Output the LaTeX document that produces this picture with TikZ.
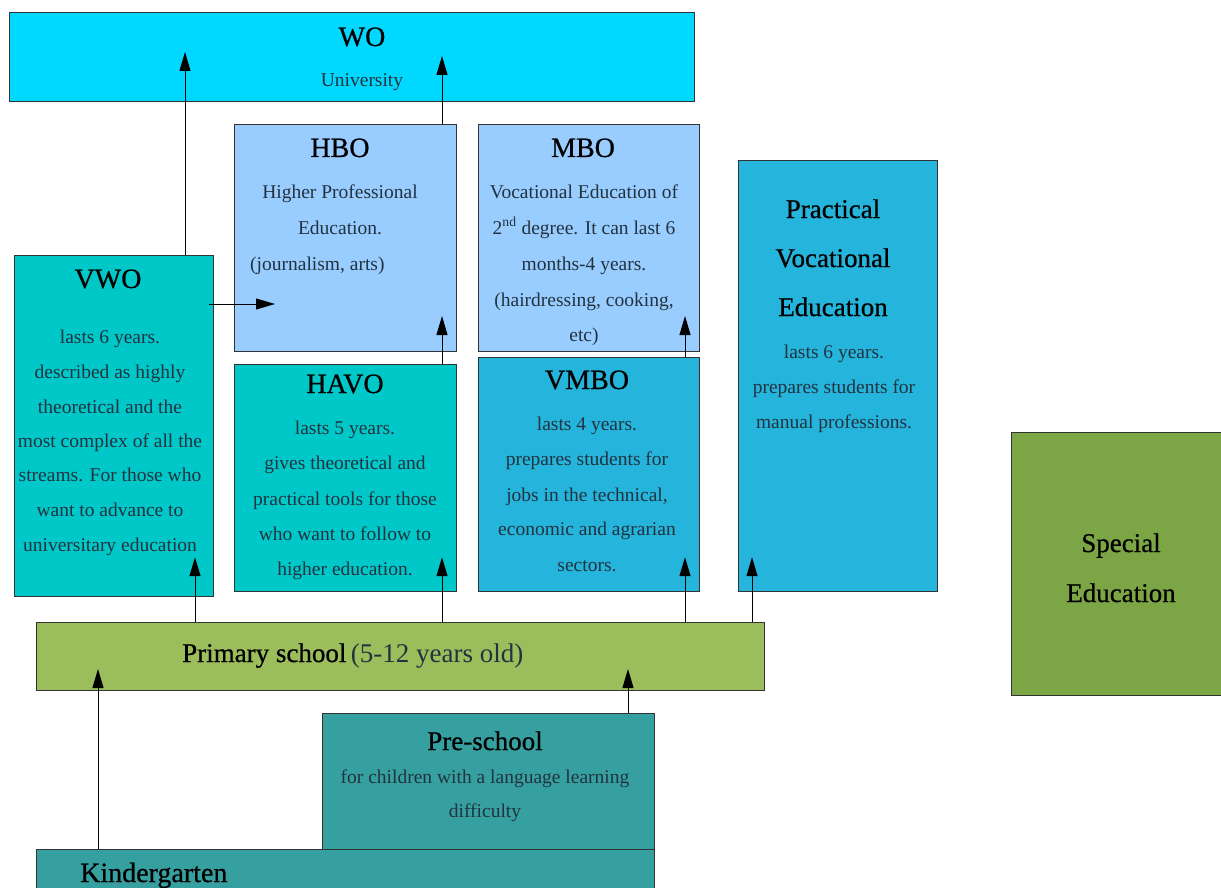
\documentclass[tikz,border=0pt]{standalone}
\usepackage{fontspec}
\setmainfont{Liberation Serif}
\newfontface\semib{Liberation Serif}[FakeBold=0.7]
\usetikzlibrary{arrows.meta,calc}
\definecolor{woC}{HTML}{00D8FF}
\definecolor{hboC}{HTML}{99CCFF}
\definecolor{vwoC}{HTML}{00C8C8}
\definecolor{vmboC}{HTML}{25B4DB}
\definecolor{primC}{HTML}{9BBD5C}
\definecolor{specC}{HTML}{7CA646}
\definecolor{preC}{HTML}{36A0A0}
\definecolor{txtC}{HTML}{22333F}
\definecolor{lineC}{HTML}{333333}
\begin{document}
\begin{tikzpicture}[x=1pt,y=-1pt,
  box/.style={draw=lineC,line width=1.2pt,anchor=north west,inner sep=0pt,rectangle},
  ttl/.style={anchor=base,inner sep=0pt,font=\semib\fontsize{28}{30}\selectfont,text=black},
  bigttl/.style={anchor=base,inner sep=0pt,font=\semib\fontsize{27}{29}\selectfont,text=black},
  body/.style={anchor=base,inner sep=0pt,font=\fontsize{19.5}{21}\selectfont,text=txtC},
  arr/.style={-{Triangle[length=19pt,width=11pt]},line width=1pt,draw=black}]
\useasboundingbox (0,0) rectangle (1221,888);
\fill[white] (0,0) rectangle (1221,888);

% boxes
\node[box,fill=woC,minimum width=685,minimum height=89] (wo) at (9,12) {};
\node[box,fill=hboC,minimum width=222,minimum height=227] (hbo) at (234,124) {};
\node[box,fill=hboC,minimum width=221,minimum height=227] (mbo) at (478,124) {};
\node[box,fill=vmboC,minimum width=199,minimum height=431] (pve) at (738,160) {};
\node[box,fill=vwoC,minimum width=199,minimum height=341] (vwo) at (14,255) {};
\node[box,fill=vwoC,minimum width=222,minimum height=227] (havo) at (234,364) {};
\node[box,fill=vmboC,minimum width=221,minimum height=234] (vmbo) at (478,357) {};
\node[box,fill=primC,minimum width=728,minimum height=68] (prim) at (36,622) {};
\node[box,fill=specC,minimum width=220,minimum height=263] (spec) at (1011,432) {};
\node[box,fill=preC,minimum width=332,minimum height=137] (pre) at (322,713) {};
\node[box,fill=preC,minimum width=618,minimum height=60] (kg) at (36,849) {};

% texts
\node[ttl] (woT) at (362,46) {WO};
\node[body] (woB) at (362,87) {University};

\node[ttl] (hboT) at (340,157) {HBO};
\node[body] (hboB1) at (340,198) {Higher Professional};
\node[body] (hboB2) at (340,234) {Education.};
\node[body,anchor=base west] (hboB3) at (250,270) {(journalism, arts)};

\node[ttl] (mboT) at (583,157) {MBO};
\node[body] (mboB1) at (584,198) {Vocational Education of};
\node[body] (mboB2) at (584,234) {2\textsuperscript{nd} degree. It can last 6};
\node[body] (mboB3) at (584,270) {months-4 years.};
\node[body] (mboB4) at (584,306) {(hairdressing, cooking,};
\node[body] (mboB5) at (584,341) {etc)};

\node[bigttl] (pveT1) at (833,218) {Practical};
\node[bigttl] (pveT2) at (833,267) {Vocational};
\node[bigttl] (pveT3) at (833,316) {Education};
\node[body] (pveB1) at (834,358) {lasts 6 years.};
\node[body] (pveB2) at (834,393) {prepares students for};
\node[body] (pveB3) at (834,428) {manual professions.};

\node[ttl] (vwoT) at (108,288) {VWO};
\node[body] (vwoB1) at (110,343) {lasts 6 years.};
\node[body] (vwoB2) at (110,378) {described as highly};
\node[body] (vwoB3) at (110,413) {theoretical and the};
\node[body] (vwoB4) at (110,447) {most complex of all the};
\node[body] (vwoB5) at (110,481) {streams. For those who};
\node[body] (vwoB6) at (110,516) {want to advance to};
\node[body] (vwoB7) at (110,551) {universitary education};

\node[ttl] (havoT) at (345,393) {HAVO};
\node[body] (havoB1) at (345,434) {lasts 5 years.};
\node[body] (havoB2) at (345,469) {gives theoretical and};
\node[body] (havoB3) at (345,505) {practical tools for those};
\node[body] (havoB4) at (345,540) {who want to follow to};
\node[body] (havoB5) at (345,575) {higher education.};

\node[ttl] (vmboT) at (587,389) {VMBO};
\node[body] (vmboB1) at (587,430) {lasts 4 years.};
\node[body] (vmboB2) at (587,465) {prepares students for};
\node[body] (vmboB3) at (587,501) {jobs in the technical,};
\node[body] (vmboB4) at (587,535) {economic and agrarian};
\node[body] (vmboB5) at (587,571) {sectors.};

\node[anchor=base west,inner sep=0pt,font=\fontsize{27}{29}\selectfont] (primT) at (182,662)
  {{\semib\textcolor{black}{Primary school}}\,\textcolor{txtC}{(5-12 years old)}};

\node[bigttl] (specT1) at (1121,552) {Special};
\node[bigttl] (specT2) at (1121,602) {Education};

\node[ttl,font=\semib\fontsize{27}{29}\selectfont] (preT) at (485,750) {Pre-school};
\node[body] (preB1) at (485,783) {for children with a language learning};
\node[body] (preB2) at (485,817) {difficulty};

\node[anchor=base west,inner sep=0pt,font=\semib\fontsize{28}{30}\selectfont,text=black] (kgT) at (80,882) {Kindergarten};

% arrows
\draw[arr] ($(vwo.north west)+(171,0)$) -- ($(wo.north west)+(176,40)$);
\draw[arr] ($(hbo.north west)+(208,0)$) -- ($(wo.north west)+(433,44)$);
\draw[arr] ($(vwo.north east)+(-5,49)$) -- ($(hbo.north west)+(41,180)$);
\draw[arr] ($(havo.north west)+(208,0)$) -- ($(hbo.north west)+(208,192)$);
\draw[arr] ($(vmbo.north west)+(207,0)$) -- ($(mbo.north west)+(207,192)$);
\draw[arr] ($(prim.north west)+(159,0)$) -- ($(vwo.south west)+(181,-40)$);
\draw[arr] ($(prim.north west)+(406,0)$) -- ($(havo.south west)+(208,-35)$);
\draw[arr] ($(prim.north west)+(649,0)$) -- ($(vmbo.south west)+(207,-35)$);
\draw[arr] ($(prim.north west)+(716,0)$) -- ($(pve.south west)+(14,-35)$);
\draw[arr] ($(kg.north west)+(62,0)$) -- ($(prim.north west)+(62,47)$);
\draw[arr] ($(pre.north west)+(306,0)$) -- ($(prim.north west)+(592,47)$);
\end{tikzpicture}
\end{document}
